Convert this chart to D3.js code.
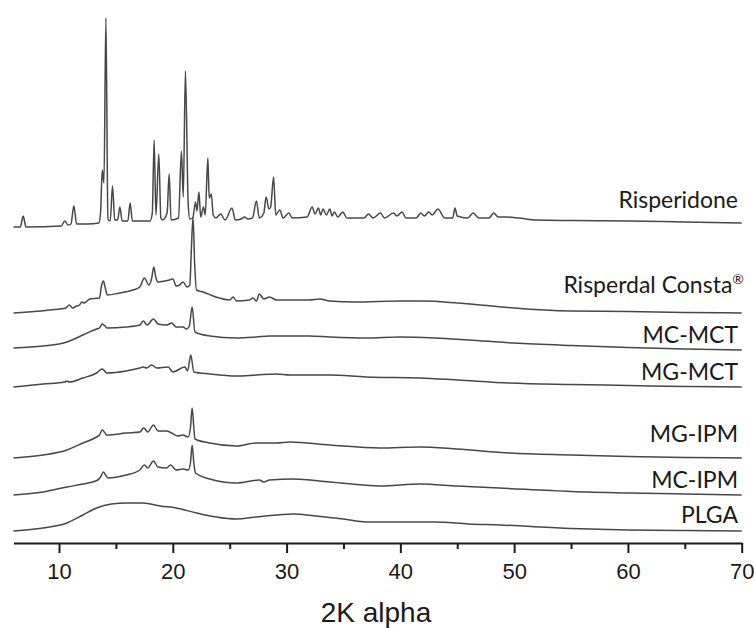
<!DOCTYPE html>
<html>
<head>
<meta charset="utf-8">
<script src="https://cdn.jsdelivr.net/npm/d3@7"></script>
<style>
  html, body { margin: 0; padding: 0; background: #fff; }
  svg { display: block; }
</style>
</head>
<body>
<svg id="chart" width="755" height="628"></svg>
<script>
// X-ray powder diffraction patterns, stacked with a vertical offset per sample.
// Each pattern: [2θ (deg), intensity above the sample's own baseline (a.u.)]

const sampleNames = ["Risperidone", "Risperdal Consta", "MC-MCT", "MG-MCT", "MG-IPM", "MC-IPM", "PLGA"];
const sampleOffsets = [320, 230, 193, 156, 85, 48, 12];

const risperidone = [
  [6.0,-4],[6.6,-4],[6.85,7],[7.1,-4],[10.2,-3],[10.5,2],[10.8,-2],[11.05,-1],[11.3,17],[11.55,-1],
  [12.5,-1],[13.5,0],[13.65,10],[13.8,53],[13.95,40],[14.12,205],[14.3,4],[14.5,2],[14.7,37],[14.9,3],
  [15.15,3],[15.35,16],[15.55,2],[16.05,2],[16.25,20],[16.45,2],[18.0,2],[18.2,10],[18.36,83],[18.52,8],
  [18.77,69],[18.95,5],[19.1,3],[19.5,10],[19.68,49],[19.85,3],[20.5,5],[20.76,72],[20.92,26],[21.11,152],
  [21.35,20],[21.5,4],[21.75,5],[22.0,21],[22.12,12],[22.3,31],[22.45,6],[22.7,16],[22.85,8],[23.08,65],
  [23.2,25],[23.38,29],[23.55,8],[23.8,5],[24.2,9],[24.6,3],[25.2,15],[25.5,3],[26.0,4],[26.3,6],
  [26.6,4],[27.0,5],[27.35,22],[27.6,5],[28.0,10],[28.2,26],[28.45,14],[28.6,16],[28.86,46],[29.05,8],
  [29.4,13],[29.7,5],[30.2,10],[30.5,5],[31.8,6],[32.25,16],[32.5,9],[32.8,15],[33.0,8],[33.2,14],
  [33.5,8],[33.8,14],[34.0,7],[34.2,11],[34.5,6],[34.94,11],[35.3,5],[36.8,5],[37.2,9],[37.6,5],
  [38.25,10],[38.6,5],[39.4,10],[39.7,7],[40.15,11],[40.5,5],[41.4,5],[41.8,10],[42.1,7],[42.5,11],
  [42.8,8],[43.3,14],[43.9,5],[44.6,5],[44.8,15],[45.0,7],[45.9,5],[46.4,10],[46.9,5],[47.8,5],
  [48.2,10],[48.6,6],[49.2,6],[50.4,5],[52,3],[55,2.5],[60,2],[65,1],[70,0]
];

const risperdalConsta = [
  [6,0],[9.2,3],[10.6,5],[10.9,8],[11.2,5],[11.55,7],[11.8,8],[12.0,11],[12.2,10],[12.7,14],
  [13.55,15],[13.75,28],[13.9,32],[14.05,26],[14.25,18],[15.35,20],[16.5,23],[17.1,26],[17.5,35],[17.9,28],
  [18.15,35],[18.33,46],[18.5,36],[18.7,31],[19.3,32],[19.7,33],[20.0,34],[20.3,27],[20.6,28],[20.9,31],
  [21.25,26],[21.5,28],[21.62,60],[21.78,96],[21.92,50],[22.08,23],[22.66,21],[23.8,16],[25.0,13],[25.3,16],
  [25.6,12],[26.75,13],[27.05,15],[27.35,12],[27.6,19],[28.0,14],[28.5,16],[29.1,13],[32.0,13],[32.9,14],
  [33.8,12],[36,11],[40,12],[42,12],[45,10],[48,7],[50,5],[55,2],[60,1.5],[65,0.5],[70,0]
];

const mcMct = [
  [6,2],[8.6,4],[10.7,8],[12.1,15],[13.3,21],[13.55,22],[13.8,26],[14.05,24],[14.2,22],[15.9,23],
  [17.1,25],[17.4,29],[17.75,25],[18.3,31],[18.7,26],[19.45,25],[19.9,27],[20.3,23],[20.9,23],[21.2,21],
  [21.45,24],[21.7,43],[21.95,18],[23.25,14],[25.6,12],[27.35,13],[28.5,14],[32,14],[33.8,13],[37,12],
  [40,13],[43,12],[46,10],[50,7],[55,4.5],[60,2.5],[65,1],[70,0]
];

const mgMct = [
  [6,0],[8.6,3],[10.5,5],[10.7,6],[10.9,5],[12.1,9],[13.3,14],[13.8,18],[14.2,14],[15.9,16],
  [17.1,19],[17.4,20],[17.7,19],[18.13,22],[18.6,19],[19.6,20],[20.0,15],[21.05,20],[21.3,16],[21.58,32],
  [21.85,15],[23.25,13],[25.6,11],[27.35,12],[29.1,13],[30.3,12],[33.8,12],[37,10],[41.7,9],[45,7],
  [49.6,4],[55,2.5],[60,1.5],[65,0.5],[70,0]
];

const mgIpm = [
  [6,0],[8.6,3],[10.7,8],[12.1,15],[13.3,21],[13.55,23],[13.8,28],[14.05,25],[14.2,23],[15.9,25],
  [17.1,26],[17.45,30],[17.8,26],[18.3,33],[18.7,27],[19.45,27],[19.9,25],[20.45,22],[20.9,23],[21.35,21],
  [21.55,30],[21.7,50],[21.85,30],[21.95,19],[23.25,15],[25.6,12],[27.3,15],[29.1,15],[30.3,16],[33.8,13],
  [38.2,10],[41.7,11],[45,9],[49.6,5],[55,3],[60,1.5],[65,0.5],[70,0]
];

const mcIpm = [
  [6,0],[8.6,3],[10.7,8],[12.1,11],[13.4,15],[13.65,18],[13.9,23],[14.1,20],[14.3,17],[15.9,20],
  [17.1,25],[17.5,30],[17.8,27],[18.3,34],[18.7,28],[19.45,27],[19.8,30],[20.3,25],[20.9,26],[21.35,25],
  [21.55,32],[21.7,50],[21.85,32],[22.0,22],[23.25,16],[25.6,12],[27.6,15],[28.0,13],[28.5,15],[30.6,16],
  [33.8,13],[38.2,9],[41.7,11],[45,9],[48.7,7],[55,3.5],[60,2],[65,1],[70,0]
];

const plga = [
  [6,0],[8.6,3],[10.7,8],[12.1,16],[13.3,23],[14.6,27],[15.9,28],[17.4,28],[18.9,25],[20.3,23],
  [22.1,18],[23.8,14],[25.6,12],[27.35,14],[29.1,16],[30.6,17],[32.6,15],[35,12],[37,9],[40,9],
  [43,9],[46,7],[48.7,6],[55,2.5],[60,1],[65,0.5],[70,0]
];

const patterns = [risperidone, risperdalConsta, mcMct, mgMct, mgIpm, mcIpm, plga];

const majorTicks = [10, 20, 30, 40, 50, 60, 70];
const minorTicks = [15, 25, 35, 45, 55, 65];
const xDomain = [6, 70];
const xTitle = "2K alpha";

// ---- layout ----
const svg = d3.select("#chart");
const axisY = 543;
const x = d3.scaleLinear().domain(xDomain).range([13.5, 741.7]);
const y = d3.scaleLinear().domain([0, 530]).range([axisY, 13]);

const line = d3.line()
  .x(d => x(d[0]))
  .curve(d3.curveMonotoneX);

const traces = svg.append("g").attr("class", "traces");
patterns.forEach((pts, i) => {
  const off = sampleOffsets[i];
  traces.append("path")
    .datum(pts)
    .attr("fill", "none")
    .attr("stroke", "#474747")
    .attr("stroke-width", 1.5)
    .attr("stroke-linejoin", "round")
    .attr("d", line.y(d => y(off + d[1])));
});

// sample labels, right aligned above each pattern's tail
const labelLift = [15, 20, 7, 7, 16, 7, 8];
const labels = svg.append("g")
  .attr("font-family", "Lato, 'Open Sans', sans-serif")
  .attr("font-size", 23)
  .attr("fill", "#1a1a1a")
  .attr("text-anchor", "end");
sampleNames.forEach((name, i) => {
  const isConsta = name === "Risperdal Consta";
  const t = labels.append("text")
    .attr("x", isConsta ? 744 : 738)
    .attr("y", y(sampleOffsets[i]) - labelLift[i])
    .text(name);
  if (isConsta) {
    t.append("tspan")
      .attr("font-size", 14)
      .attr("dy", -9)
      .text("®");
  }
});

// x axis: major ticks with labels, minor ticks without
const axisG = svg.append("g").attr("transform", `translate(0,${axisY})`);
axisG.call(d3.axisBottom(x).tickValues(majorTicks).tickSize(10).tickSizeOuter(0).tickPadding(10));
axisG.append("g").call(d3.axisBottom(x).tickValues(minorTicks).tickSize(6).tickSizeOuter(0).tickFormat(""))
  .select(".domain").remove();
axisG.selectAll(".domain").attr("stroke", "#1a1a1a").attr("stroke-width", 2);
axisG.selectAll(".tick line").attr("stroke", "#1a1a1a").attr("stroke-width", 2);
axisG.selectAll(".tick text")
  .attr("font-family", "'Liberation Sans', Arial, sans-serif")
  .attr("font-size", 22)
  .attr("fill", "#1a1a1a");

svg.append("text")
  .attr("x", 376)
  .attr("y", 622)
  .attr("text-anchor", "middle")
  .attr("font-family", "'Liberation Sans', Arial, sans-serif")
  .attr("font-size", 28)
  .attr("fill", "#1a1a1a")
  .text(xTitle);
</script>
</body>
</html>
